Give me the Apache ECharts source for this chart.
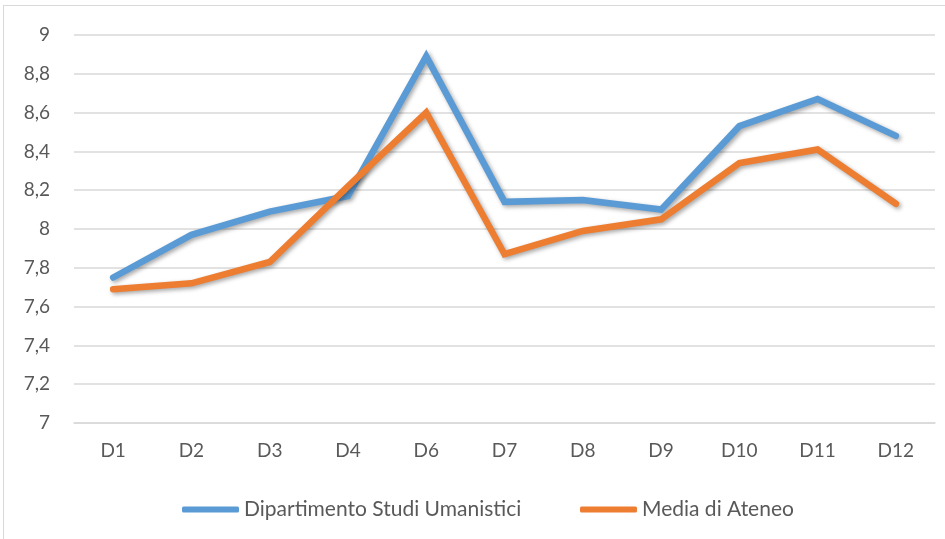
<!DOCTYPE html>
<html>
<head>
<meta charset="utf-8">
<script src="https://cdn.jsdelivr.net/npm/echarts@6/dist/echarts.min.js"></script>
<style>
  html, body { margin: 0; padding: 0; background: #fff; overflow: hidden; }
  #frame { position: absolute; left: 3px; top: 5px; width: 980px; height: 580px; border: 1px solid #d9d9d9; }
  #chart { position: absolute; left: 0; top: 0; width: 945px; height: 539px; }
</style>
</head>
<body>
<div id="frame"></div>
<div id="chart"></div>
<script>
// categorie (manca D5)
const categories = ["D1", "D2", "D3", "D4", "D6", "D7", "D8", "D9", "D10", "D11", "D12"];
const dipartimento = [7.75, 7.97, 8.09, 8.17, 8.89, 8.14, 8.15, 8.10, 8.53, 8.67, 8.48];
const ateneo = [7.69, 7.72, 7.83, 8.22, 8.60, 7.87, 7.99, 8.05, 8.34, 8.41, 8.13];
const seriesNames = ["Dipartimento Studi Umanistici", "Media di Ateneo"];

const FONT = "Lato, 'Open Sans', sans-serif";
const BLUE = "#5b9bd5";
const ORANGE = "#ed7d31";

const chart = echarts.init(document.getElementById("chart"));

const lineShadow = {
  shadowColor: "rgba(0,0,0,0.35)",
  shadowBlur: 4,
  shadowOffsetX: 2,
  shadowOffsetY: 2
};

// una legenda per voce, così le posizioni tornano con l'originale
const legendBase = {
  top: 494,
  itemWidth: 57,
  itemHeight: 6,
  icon: "roundRect",
  textStyle: { fontFamily: FONT, fontSize: 21, color: "#595959" }
};

chart.setOption({
  animation: false,
  grid: { left: 74, right: 10, top: 35, bottom: 116 },
  legend: [
    Object.assign({ left: 177, data: [seriesNames[0]] }, legendBase),
    Object.assign({ left: 575, data: [seriesNames[1]] }, legendBase)
  ],
  xAxis: {
    type: "category",
    data: categories,
    boundaryGap: true,
    axisLine: { lineStyle: { color: "#d9d9d9", width: 1.5 } },
    axisTick: { show: false },
    axisLabel: { margin: 18, fontFamily: FONT, fontSize: 19, color: "#595959" }
  },
  yAxis: {
    type: "value",
    min: 7,
    max: 9,
    interval: 0.2,
    axisLine: { show: false },
    axisTick: { show: false },
    splitLine: { lineStyle: { color: "#d9d9d9", width: 1.5 } },
    axisLabel: {
      margin: 24,
      fontFamily: FONT,
      fontSize: 19,
      color: "#595959",
      formatter: v => String(Math.round(v * 10) / 10).replace(".", ",")
    }
  },
  series: [
    {
      name: seriesNames[0],
      type: "line",
      data: dipartimento,
      symbol: "none",
      itemStyle: { color: BLUE },
      lineStyle: Object.assign({ color: BLUE, width: 6.5, cap: "round", join: "miter" }, lineShadow)
    },
    {
      name: seriesNames[1],
      type: "line",
      data: ateneo,
      symbol: "none",
      itemStyle: { color: ORANGE },
      lineStyle: Object.assign({ color: ORANGE, width: 6.5, cap: "round", join: "miter" }, lineShadow)
    }
  ]
});
</script>
</body>
</html>
